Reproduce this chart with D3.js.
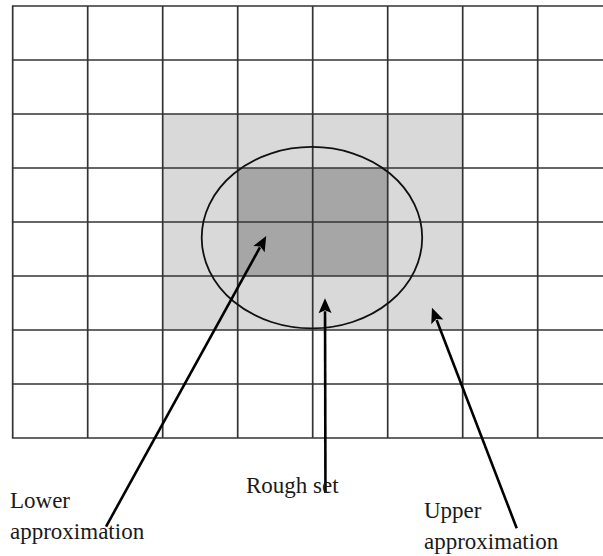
<!DOCTYPE html>
<html>
<head>
<meta charset="utf-8">
<script src="https://cdn.jsdelivr.net/npm/d3@7"></script>
<style>
html,body{margin:0;padding:0;background:#fff;}
svg{display:block;}
</style>
</head>
<body>
<svg id="chart" width="603" height="556"></svg>
<script>
// Grid of the universe (8 columns visible, 8 rows)
const gridCols = d3.range(0, 9);   // vertical grid line indices
const gridRows = d3.range(0, 9);   // horizontal grid line indices
// Shaded regions in grid units [col0, row0, col1, row1]
const upperRegion = [2, 2, 6, 6];
const lowerRegion = [3, 3, 5, 5];
// Rough set ellipse in grid units
const roughSet = {cx: 3.99, cy: 4.29, rx: 1.47, ry: 1.68};
// Labels (text, x, baseline y in pixels of the label area)
const labels = [
  {lines: ["Lower", "approximation"], x: 10, y: 508},
  {lines: ["Rough set"], x: 246, y: 493},
  {lines: ["Upper", "approximation"], x: 424, y: 518}
];
// Arrows: from (grid units) to tip (grid units)
const arrows = [
  {from: [1.245, 9.64], to: [3.38, 4.26]},
  {from: [4.17, 9.02], to: [4.164, 5.41]},
  {from: [6.72, 9.67], to: [5.59, 5.59]}
];

const svg = d3.select("#chart");
const x = d3.scaleLinear().domain([0, 8]).range([12.7, 612.7]);
const y = d3.scaleLinear().domain([0, 8]).range([6, 438]);

const gridColor = "#333";

// shaded regions
svg.append("rect")
  .attr("x", x(upperRegion[0])).attr("y", y(upperRegion[1]))
  .attr("width", x(upperRegion[2]) - x(upperRegion[0]))
  .attr("height", y(upperRegion[3]) - y(upperRegion[1]))
  .attr("fill", "#d9d9d9");
svg.append("rect")
  .attr("x", x(lowerRegion[0])).attr("y", y(lowerRegion[1]))
  .attr("width", x(lowerRegion[2]) - x(lowerRegion[0]))
  .attr("height", y(lowerRegion[3]) - y(lowerRegion[1]))
  .attr("fill", "#a6a6a6");

// grid lines
svg.append("g").selectAll("line.v").data(gridCols).join("line")
  .attr("x1", d => x(d)).attr("x2", d => x(d))
  .attr("y1", y(0)).attr("y2", y(8))
  .attr("stroke", gridColor).attr("stroke-width", 1.7);
svg.append("g").selectAll("line.h").data(gridRows).join("line")
  .attr("x1", x(0) - 0.8).attr("x2", 603)
  .attr("y1", d => y(d)).attr("y2", d => y(d))
  .attr("stroke", gridColor).attr("stroke-width", 1.7);

// ellipse
svg.append("ellipse")
  .attr("cx", x(roughSet.cx)).attr("cy", y(roughSet.cy))
  .attr("rx", x(roughSet.rx) - x(0)).attr("ry", y(roughSet.ry) - y(0))
  .attr("fill", "none").attr("stroke", "#111").attr("stroke-width", 1.8);

// arrows
const headLen = 15, headW = 6.5;
arrows.forEach(a => {
  const x1 = x(a.from[0]), y1 = y(a.from[1]);
  const x2 = x(a.to[0]), y2 = y(a.to[1]);
  const ang = Math.atan2(y2 - y1, x2 - x1);
  const bx = x2 - headLen * Math.cos(ang), by = y2 - headLen * Math.sin(ang);
  svg.append("line")
    .attr("x1", x1).attr("y1", y1).attr("x2", bx + 2 * Math.cos(ang)).attr("y2", by + 2 * Math.sin(ang))
    .attr("stroke", "#000").attr("stroke-width", 2.6);
  const px = -Math.sin(ang), py = Math.cos(ang);
  const notch = 3;
  const nx = bx + notch * Math.cos(ang), ny = by + notch * Math.sin(ang);
  svg.append("path")
    .attr("d", `M${x2},${y2}L${bx + headW * px},${by + headW * py}L${nx},${ny}L${bx - headW * px},${by - headW * py}Z`)
    .attr("fill", "#000");
});

// labels
labels.forEach(l => {
  const t = svg.append("text")
    .attr("x", l.x).attr("y", l.y)
    .attr("font-family", "'Liberation Serif', 'Times New Roman', serif")
    .attr("font-size", 23).attr("fill", "#1a1a1a");
  l.lines.forEach((s, i) => {
    t.append("tspan").attr("x", l.x).attr("dy", i === 0 ? 0 : 30.5).text(s);
  });
});
</script>
</body>
</html>
